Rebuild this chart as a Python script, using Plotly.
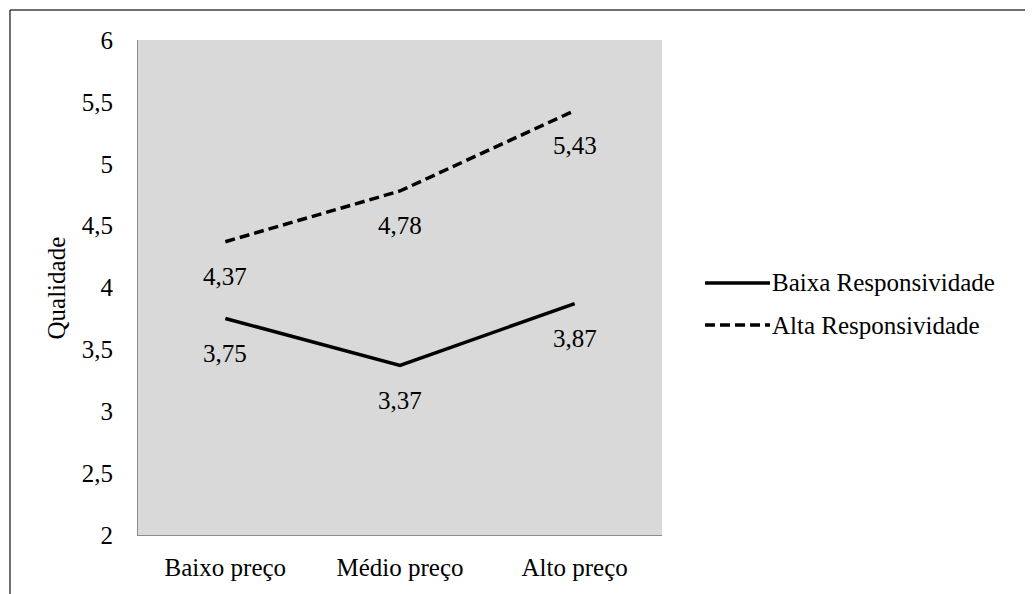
import plotly.graph_objects as go

# data
categories = ["Baixo preço", "Médio preço", "Alto preço"]
baixa_resp = [3.75, 3.37, 3.87]
alta_resp = [4.37, 4.78, 5.43]
y_ticks = [2, 2.5, 3, 3.5, 4, 4.5, 5, 5.5, 6]

FONT = "Liberation Serif"


def fmt(v):
    return "{:.2f}".format(v).replace(".", ",")


fig = go.Figure()
fig.add_trace(go.Scatter(x=categories, y=baixa_resp, mode="lines",
                         name="Baixa Responsividade",
                         line=dict(color="black", width=3.5)))
fig.add_trace(go.Scatter(x=categories, y=alta_resp, mode="lines",
                         name="Alta Responsividade",
                         line=dict(color="black", width=3.5, dash="10px,5px")))

# data labels under the points
for series in (baixa_resp, alta_resp):
    for cat, val in zip(categories, series):
        fig.add_annotation(x=cat, y=val, xref="x", yref="y", text=fmt(val),
                           showarrow=False, yshift=-35,
                           font=dict(family=FONT, size=25, color="black"))

# y axis title
fig.add_annotation(x=-0.1546, y=0.5, xref="paper", yref="paper",
                   xanchor="center", yanchor="middle",
                   text="Qualidade", textangle=-90, showarrow=False,
                   font=dict(family=FONT, size=25, color="black"))

# manual legend
legend_items = [("Baixa Responsividade", "solid", 0.5091),
                ("Alta Responsividade", "10px,5px", 0.4242)]
for label, dash, ypos in legend_items:
    fig.add_shape(type="line", xref="paper", yref="paper",
                  x0=1.0821, x1=1.2061, y0=ypos, y1=ypos,
                  line=dict(color="black", width=3.5, dash=dash))
    fig.add_annotation(x=1.2060, y=ypos, xref="paper", yref="paper",
                       text=label, showarrow=False, xanchor="left",
                       yanchor="middle",
                       font=dict(family=FONT, size=25, color="black"))

# outer chart border (top and left edges visible)
fig.add_shape(type="line", xref="paper", yref="paper",
              x0=-0.2443, x1=2.0, y0=1.0606, y1=1.0606,
              line=dict(color="#404040", width=1.5))
fig.add_shape(type="line", xref="paper", yref="paper",
              x0=-0.2443, x1=-0.2443, y0=-0.3, y1=1.0606,
              line=dict(color="#404040", width=1.5))

# page has an 8px body margin, the figure starts at (8, 8)
fig.update_layout(
    width=1017, height=586,
    margin=dict(l=130, r=363, t=32, b=59),
    paper_bgcolor="white", plot_bgcolor="#d9d9d9",
    separators=",.",
    showlegend=False,
    font=dict(family=FONT, size=25, color="black"),
)
fig.update_xaxes(range=[-0.5, 2.5], showgrid=False, zeroline=False,
                 showline=True, linecolor="#8c8c8c", linewidth=1,
                 ticks="", ticklabelstandoff=10, automargin=False,
                 tickfont=dict(family=FONT, size=25, color="black"))
fig.update_yaxes(range=[2, 6], tickvals=y_ticks, showgrid=False,
                 zeroline=False, showline=True, linecolor="#8c8c8c",
                 linewidth=1, ticks="", ticklabelstandoff=19,
                 automargin=False,
                 tickfont=dict(family=FONT, size=25, color="black"))

fig.write_html("out.html")
